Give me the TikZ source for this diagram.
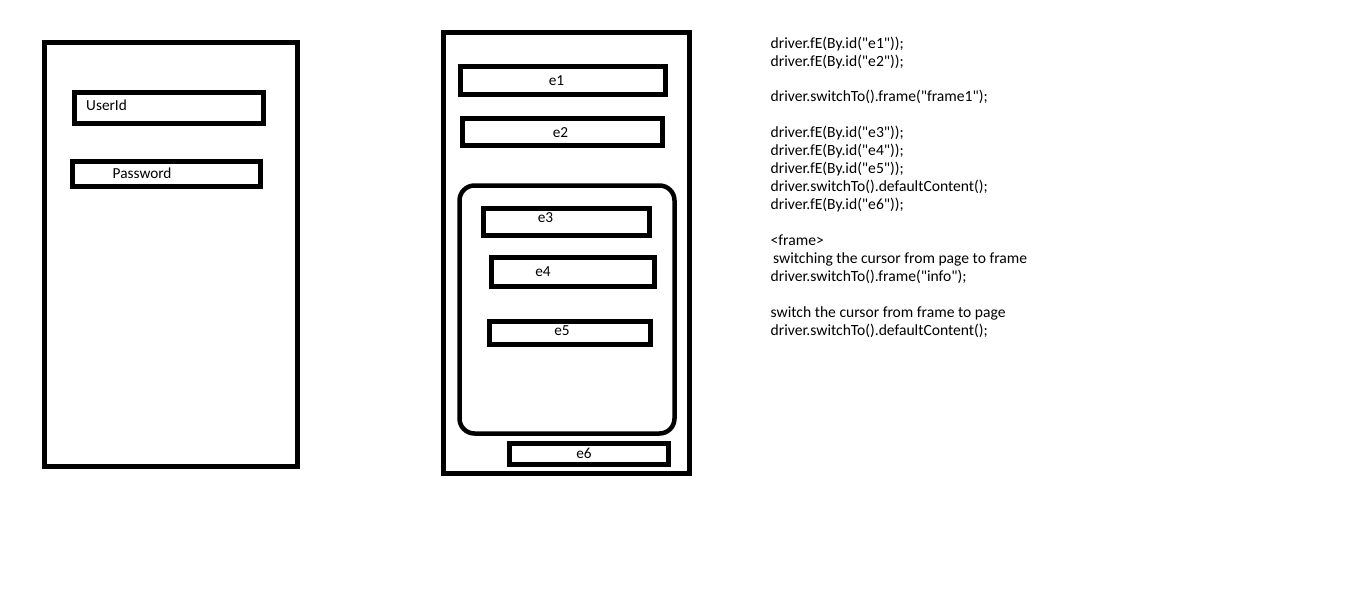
\documentclass[tikz,border=0pt]{standalone}
\usepackage{fontspec}
\setmainfont{Carlito}
\newcommand{\qq}{\textquotedbl}
\begin{document}
\begin{tikzpicture}[x=1pt,y=-1pt,
  box/.style={draw=black, line width=5pt, inner sep=0pt, shape=rectangle},
  lbl/.style={inner sep=0pt, font=\fontsize{15.3}{18}\selectfont, anchor=base},
  lblw/.style={inner sep=0pt, font=\fontsize{15.3}{18}\selectfont, anchor=base west},
  code/.style={inner sep=0pt, font=\fontsize{15.6}{18}\selectfont, anchor=base west}]
\useasboundingbox[fill=white] (0,0) rectangle (1360,600);
% left page
\node[box, minimum width=253pt, minimum height=424pt] (page1) at (170.5,254) {};
\node[box, minimum width=189pt, minimum height=31pt] (userbox) at (169,108) {};
\node[box, minimum width=188pt, minimum height=25pt] (passbox) at (166.5,174) {};
\node[lblw] (usertxt) at (86,110.5) {UserId};
\node[lblw] (passtxt) at (112.5,178.5) {Password};
% right page
\node[box, minimum width=246pt, minimum height=441pt] (page2) at (566.5,253) {};
\node[box, minimum width=205pt, minimum height=28pt] (e1) at (563,80.5) {};
\node[box, minimum width=200pt, minimum height=27pt] (e2) at (562.5,132) {};
\node[box, line width=4.5pt, rounded corners=15pt, minimum width=215pt, minimum height=248pt] (frame) at (567,309.5) {};
\node[box, minimum width=166pt, minimum height=27pt] (e3) at (566.5,222) {};
\node[box, minimum width=163pt, minimum height=29pt] (e4) at (573,272) {};
\node[box, minimum width=161pt, minimum height=23pt] (e5) at (570,333) {};
\node[box, minimum width=159pt, minimum height=21pt] (e6) at (589,454) {};
\node[lbl] (t1) at (556.5,85.5) {e1};
\node[lbl] (t2) at (560.5,137) {e2};
\node[lbl] (t3) at (545.5,222.5) {e3};
\node[lbl] (t4) at (543,276.5) {e4};
\node[lbl] (t5) at (562,335.5) {e5};
\node[lbl] (t6) at (584,458) {e6};
% code
\node[code] (c1) at (770.5,48) {driver.fE(By.id(\qq e1\qq));};
\node[code] (c2) at (770.5,66) {driver.fE(By.id(\qq e2\qq));};
\node[code] (c3) at (770.5,101.9) {driver.switchTo().frame(\qq frame1\qq);};
\node[code] (c4) at (770.5,137.8) {driver.fE(By.id(\qq e3\qq));};
\node[code] (c5) at (770.5,155.7) {driver.fE(By.id(\qq e4\qq));};
\node[code] (c6) at (770.5,173.7) {driver.fE(By.id(\qq e5\qq));};
\node[code] (c7) at (770.5,191.6) {driver.switchTo().defaultContent();};
\node[code] (c8) at (770.5,209.6) {driver.fE(By.id(\qq e6\qq));};
\node[code] (c9) at (770.5,245.5) {<frame>};
\node[code] (c10) at (773,263.4) {switching the cursor from page to frame};
\node[code] (c11) at (770.5,281.3) {driver.switchTo().frame(\qq info\qq);};
\node[code] (c12) at (770.5,317.2) {switch the cursor from frame to page};
\node[code] (c13) at (770.5,335.2) {driver.switchTo().defaultContent();};
\end{tikzpicture}
\end{document}
